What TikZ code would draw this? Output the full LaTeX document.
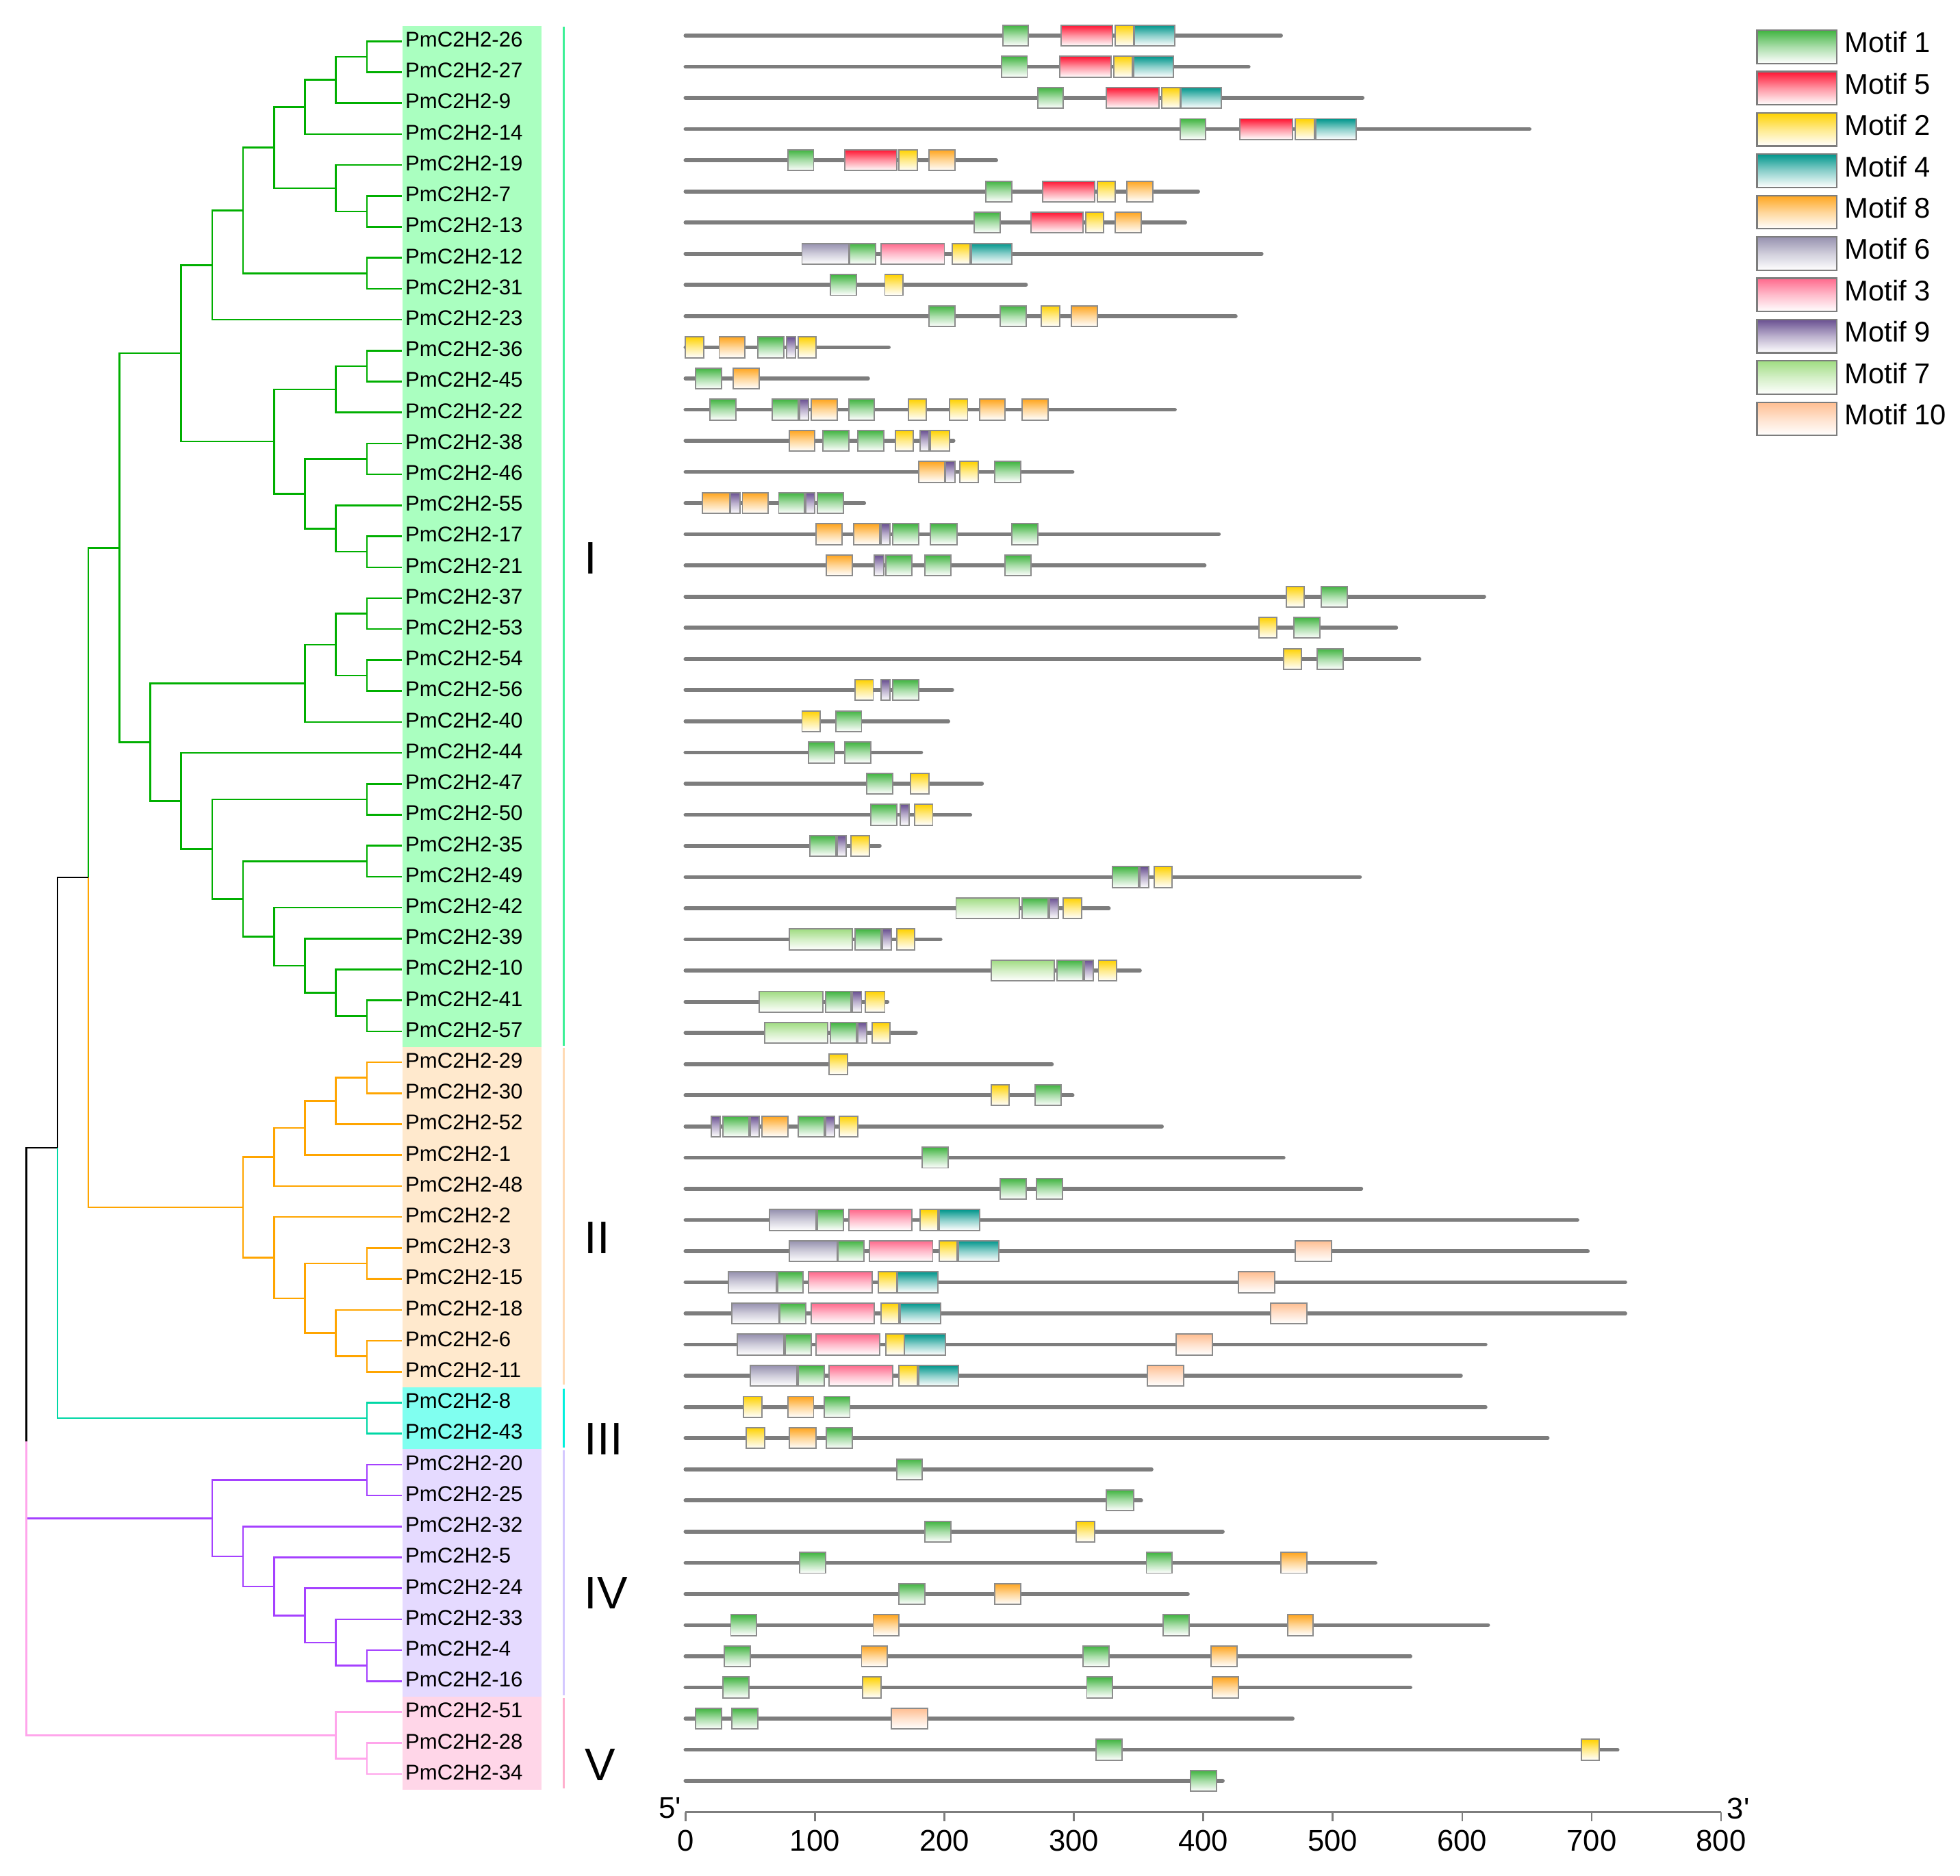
\documentclass[tikz,border=0pt]{standalone}
\usepackage{fontspec}
\newfontfamily\arialf{Liberation Sans}
\definecolor{m1}{RGB}{64,180,64}
\definecolor{m2}{RGB}{255,210,0}
\definecolor{m3}{RGB}{255,105,140}
\definecolor{m4}{RGB}{0,150,140}
\definecolor{m5}{RGB}{255,20,50}
\definecolor{m6}{RGB}{150,145,175}
\definecolor{m7}{RGB}{160,220,130}
\definecolor{m8}{RGB}{255,165,30}
\definecolor{m9}{RGB}{105,80,145}
\definecolor{m10}{RGB}{255,190,145}
\definecolor{tI}{RGB}{0,175,0}
\definecolor{tII}{RGB}{255,165,0}
\definecolor{tIII}{RGB}{0,215,165}
\definecolor{tIV}{RGB}{165,65,255}
\definecolor{tV}{RGB}{255,165,235}
\definecolor{sI}{RGB}{170,255,192}
\definecolor{sII}{RGB}{255,233,205}
\definecolor{sIII}{RGB}{128,255,240}
\definecolor{sIV}{RGB}{229,218,255}
\definecolor{sV}{RGB}{255,214,232}
\definecolor{bI}{RGB}{60,240,150}
\definecolor{bII}{RGB}{255,218,180}
\definecolor{bIII}{RGB}{0,240,220}
\definecolor{bIV}{RGB}{212,200,255}
\definecolor{bV}{RGB}{255,175,205}
\definecolor{lgray}{RGB}{125,125,125}
\definecolor{egray}{RGB}{140,140,140}
\tikzset{
	glabel/.style={anchor=west,fill=#1,minimum height=0.2476cm,text width=1.066cm,text height=3.5pt,text depth=0.9pt,inner xsep=0.022cm,inner ysep=0pt,align=left,font=\arialf\fontsize{4.85}{5}\selectfont},
	branch/.style={draw=#1,line width=0.4pt},
	gbar/.style={draw=#1,line width=0.45pt},
	grp/.style={anchor=west,inner sep=0pt,font=\arialf\fontsize{10.4}{12}\selectfont},
	gline/.style={draw=lgray,line width=0.88pt,line cap=round},
	mbox/.style={draw=egray,line width=0.3pt,top color=#1,bottom color=white,middle color=#1!45!white},
	legtext/.style={anchor=west,inner sep=0pt,font=\arialf\fontsize{6.5}{8}\selectfont},
	axline/.style={draw=lgray,line width=0.55pt},
	axnum/.style={inner sep=0pt,font=\arialf\fontsize{6.8}{8}\selectfont}
}
\newcommand{\treept}[3]{\coordinate (#1) at ({21.2+24.75*#2},{33+24.76*#3});}
\newcommand{\generow}[3]{%
	\draw[gline] (0,{28.5+24.94*#1}) -- (#2,{28.5+24.94*#1});
	\foreach \m/\a/\b in {#3}
		\shade[mbox=m\m] (\a,{20.2+24.94*#1}) rectangle (\b,{36.8+24.94*#1});
}
\begin{document}
\begin{tikzpicture}[x=0.01cm,y=-0.01cm]
	\useasboundingbox (0,0) rectangle (1568,1501);
	\foreach \g [count=\i from 0] in {26,27,9,14,19,7,13,12,31,23,36,45,22,38,46,55,17,21,37,53,54,56,40,44,47,50,35,49,42,39,10,41,57}
		\node[glabel=sI] (g\g) at (321.4,{33+24.76*\i}) {PmC2H2-\g};
	\foreach \g [count=\i from 33] in {29,30,52,1,48,2,3,15,18,6,11}
		\node[glabel=sII] (g\g) at (321.4,{33+24.76*\i}) {PmC2H2-\g};
	\foreach \g [count=\i from 44] in {8,43}
		\node[glabel=sIII] (g\g) at (321.4,{33+24.76*\i}) {PmC2H2-\g};
	\foreach \g [count=\i from 46] in {20,25,32,5,24,33,4,16}
		\node[glabel=sIV] (g\g) at (321.4,{33+24.76*\i}) {PmC2H2-\g};
	\foreach \g [count=\i from 54] in {51,28,34}
		\node[glabel=sV] (g\g) at (321.4,{33+24.76*\i}) {PmC2H2-\g};

	\treept{a1}{11}{0.5} \treept{a2}{10}{1.25} \treept{a3}{9}{2.125} \treept{a4}{11}{5.5} \treept{a5}{10}{4.75} \treept{a6}{8}{3.4375} \treept{a7}{11}{7.5} \treept{a8}{7}{5.46875} \treept{a9}{6}{7.234375}
	\treept{b1}{11}{10.5} \treept{b2}{10}{11.25} \treept{b3}{11}{13.5} \treept{b4}{11}{16.5} \treept{b5}{10}{15.75} \treept{b6}{9}{14.625} \treept{b7}{8}{12.9375} \treept{j1}{5}{10.0859}
	\treept{c1}{11}{18.5} \treept{c2}{11}{20.5} \treept{c3}{10}{19.5} \treept{c4}{9}{20.75}
	\treept{d1}{11}{24.5} \treept{d2}{11}{26.5} \treept{d3}{11}{31.5} \treept{d4}{10}{30.75} \treept{d5}{9}{29.875} \treept{d6}{8}{28.9375} \treept{d7}{7}{27.71875} \treept{d8}{6}{26.109375} \treept{d9}{5}{24.5547}
	\treept{u1}{4}{22.6523} \treept{t1}{3}{16.3691}
	\treept{e1}{11}{33.5} \treept{e2}{10}{34.25} \treept{e3}{9}{35.125} \treept{e4}{8}{36.0625} \treept{e5}{11}{39.5} \treept{e6}{11}{42.5} \treept{e7}{10}{41.75} \treept{e8}{9}{40.625} \treept{e9}{8}{39.3125} \treept{e10}{7}{37.6875}
	\treept{n2}{2}{27.0283} \treept{f1}{11}{44.5} \treept{n1}{1}{35.7642}
	\treept{h1}{11}{46.5} \treept{h2}{11}{52.5} \treept{h3}{10}{51.75} \treept{h4}{9}{50.875} \treept{h5}{8}{49.9375} \treept{h6}{7}{48.96875} \treept{h7}{6}{47.7344}
	\treept{v1}{11}{55.5} \treept{v2}{10}{54.75} \treept{r0}{0}{45.2571}

	\foreach \p/\c in {a1/g26.west,a1/g27.west,a2/a1,a2/g9.west,a3/a2,a3/g14.west,a4/g7.west,a4/g13.west,a5/g19.west,a5/a4,a6/a3,a6/a5,a7/g12.west,a7/g31.west,a8/a6,a8/a7,a9/a8,a9/g23.west,
		b1/g36.west,b1/g45.west,b2/b1,b2/g22.west,b3/g38.west,b3/g46.west,b4/g17.west,b4/g21.west,b5/g55.west,b5/b4,b6/b3,b6/b5,b7/b2,b7/b6,j1/a9,j1/b7,
		c1/g37.west,c1/g53.west,c2/g54.west,c2/g56.west,c3/c1,c3/c2,c4/c3,c4/g40.west,
		d1/g47.west,d1/g50.west,d2/g35.west,d2/g49.west,d3/g41.west,d3/g57.west,d4/g10.west,d4/d3,d5/g39.west,d5/d4,d6/g42.west,d6/d5,d7/d2,d7/d6,d8/d1,d8/d7,d9/g44.west,d9/d8,
		u1/c4,u1/d9,t1/j1,t1/u1,n2/t1}
		\draw[branch=tI] (\p) |- (\c);
	\foreach \p/\c in {e1/g29.west,e1/g30.west,e2/e1,e2/g52.west,e3/e2,e3/g1.west,e4/e3,e4/g48.west,e5/g3.west,e5/g15.west,e6/g6.west,e6/g11.west,e7/g18.west,e7/e6,e8/e5,e8/e7,e9/g2.west,e9/e8,e10/e4,e10/e9,n2/e10}
		\draw[branch=tII] (\p) |- (\c);
	\draw[branch=black] (n1) |- (n2) (r0) |- (n1);
	\foreach \p/\c in {f1/g8.west,f1/g43.west,n1/f1}
		\draw[branch=tIII] (\p) |- (\c);
	\foreach \p/\c in {h1/g20.west,h1/g25.west,h2/g4.west,h2/g16.west,h3/g33.west,h3/h2,h4/g24.west,h4/h3,h5/g5.west,h5/h4,h6/g32.west,h6/h5,h7/h1,h7/h6,r0/h7}
		\draw[branch=tIV] (\p) |- (\c);
	\foreach \p/\c in {v1/g28.west,v1/g34.west,v2/g51.west,v2/v1,r0/v2}
		\draw[branch=tV] (\p) |- (\c);

	\draw[gbar=bI] (451,21.6) -- (451,836.7);
	\draw[gbar=bII] (451,838.7) -- (451,1108.1);
	\draw[gbar=bIII] (451,1111.1) -- (451,1158.6);
	\draw[gbar=bIV] (451,1160.6) -- (451,1356.7);
	\draw[gbar=bV] (451,1358.7) -- (451,1430.9);
	\node[grp] (grpI) at (467,446.6) {I};
	\node[grp] (grpII) at (467,990.6) {II};
	\node[grp] (grpIII) at (467,1151.5) {III};
	\node[grp] (grpIV) at (467,1275) {IV};
	\node[grp] (grpV) at (467.5,1412) {V};

	\begin{scope}[shift={(548.4,0)},xscale=1.0356]
		\generow{0}{460}{1/245/265,5/290/330,2/332/346,4/347/378}
		\generow{1}{435}{1/244/264,5/289/329,2/331/345,4/346/377}
		\generow{2}{523}{1/272/292,5/325/366,2/368/382,4/383/414}
		\generow{3}{652}{1/382/402,5/428/469,2/471/486,4/487/518}
		\generow{4}{240}{1/79/99,5/123/163,2/165/179,8/188/208}
		\generow{5}{396}{1/232/252,5/276/316,2/318/332,8/341/361}
		\generow{6}{386}{1/223/243,5/267/307,2/309/323,8/332/352}
		\generow{7}{445}{6/90/126,1/127/147,3/151/200,2/206/220,4/221/252}
		\generow{8}{263}{1/112/132,2/154/168}
		\generow{9}{425}{1/188/208,1/243/263,2/275/289,8/298/318}
		\generow{10}{157}{2/0/14,8/26/46,1/56/76,9/78/85,2/87/101}
		\generow{11}{141}{1/8/28,8/37/57}
		\generow{12}{378}{1/19/39,1/67/87,9/88/95,8/97/117,1/126/146,2/172/186,2/204/218,8/227/247,8/260/280}
		\generow{13}{207}{8/80/100,1/106/126,1/133/153,2/162/176,9/181/188,2/189/204}
		\generow{14}{299}{8/180/200,9/201/208,2/212/226,1/239/259}
		\generow{15}{138}{8/13/34,9/35/42,8/44/64,1/72/92,9/93/100,1/102/122}
		\generow{16}{412}{8/101/121,8/130/150,9/151/158,1/160/180,1/189/210,1/252/272}
		\generow{17}{401}{8/109/129,9/146/153,1/155/175,1/185/205,1/247/267}
		\generow{18}{617}{2/464/478,1/491/511}
		\generow{19}{549}{2/443/457,1/470/490}
		\generow{20}{567}{2/462/476,1/488/508}
		\generow{21}{206}{2/131/145,9/151/158,1/160/180}
		\generow{22}{203}{2/90/104,1/116/136}
		\generow{23}{182}{1/95/115,1/123/143}
		\generow{24}{229}{1/140/160,2/174/188}
		\generow{25}{220}{1/143/163,9/166/173,2/177/191}
		\generow{26}{150}{1/96/116,9/117/124,2/128/142}
		\generow{27}{521}{1/330/350,9/351/358,2/362/376}
		\generow{28}{327}{7/209/258,1/260/280,9/281/288,2/292/306}
		\generow{29}{197}{7/80/129,1/131/151,9/152/159,2/163/177}
		\generow{30}{351}{7/236/285,1/287/307,9/308/315,2/319/333}
		\generow{31}{156}{7/57/106,1/108/128,9/129/136,2/139/154}
		\generow{32}{178}{7/61/110,1/112/132,9/133/140,2/144/158}
		\generow{33}{283}{2/111/125}
		\generow{34}{299}{2/236/250,1/270/290}
		\generow{35}{368}{9/20/27,1/29/49,9/50/57,8/59/79,1/87/107,9/108/115,2/119/133}
		\generow{36}{462}{1/183/203}
		\generow{37}{522}{1/243/263,1/271/291}
		\generow{38}{689}{6/65/101,1/102/122,3/126/175,2/181/195,4/196/227}
		\generow{39}{697}{6/80/117,1/118/138,3/142/191,2/196/210,4/211/242,10/471/499}
		\generow{40}{726}{6/33/70,1/71/91,3/95/144,2/149/163,4/164/195,10/427/455}
		\generow{41}{726}{6/36/72,1/73/93,3/97/146,2/151/165,4/166/197,10/452/480}
		\generow{42}{618}{6/40/76,1/77/97,3/101/150,2/155/169,4/169/201,10/379/407}
		\generow{43}{599}{6/50/86,1/87/107,3/111/160,2/165/179,4/180/211,10/357/385}
		\generow{44}{618}{2/45/59,8/79/99,1/107/127}
		\generow{45}{666}{2/47/61,8/80/101,1/109/129}
		\generow{46}{360}{1/163/183}
		\generow{47}{352}{1/325/346}
		\generow{48}{415}{1/185/205,2/302/316}
		\generow{49}{533}{1/88/108,1/356/376,8/460/480}
		\generow{50}{388}{1/165/185,8/239/259}
		\generow{51}{620}{1/35/55,8/145/165,1/369/389,8/465/485}
		\generow{52}{560}{1/30/50,8/136/156,1/307/327,8/406/426}
		\generow{53}{560}{1/29/49,2/137/151,1/310/330,8/407/427}
		\generow{54}{469}{1/8/28,1/36/56,10/159/187}
		\generow{55}{720}{1/317/337,2/692/706}
		\generow{56}{415}{1/390/410}
		\draw[axline] (0,1450) -- (800,1450);
		\foreach \v in {0,100,...,800} {
			\draw[axline,line width=0.4pt] (\v,1450) -- (\v,1457.6);
			\node[axnum] (tick\v) at (\v,1473) {\v};
		}
	\end{scope}
	\node[axnum,anchor=east] (five) at (545.5,1447) {5'};
	\node[axnum,anchor=west] (three) at (1381,1447) {3'};

	\foreach \m [count=\i from 0] in {1,5,2,4,8,6,3,9,7,10} {
		\shade[mbox=m\m,draw=lgray,line width=0.35pt] (1405.6,{24.2+33.08*\i}) rectangle (1469.4,{50.8+33.08*\i});
		\node[legtext] (leg\m) at (1475,{34+33.08*\i}) {Motif \m};
	}
\end{tikzpicture}
\end{document}
